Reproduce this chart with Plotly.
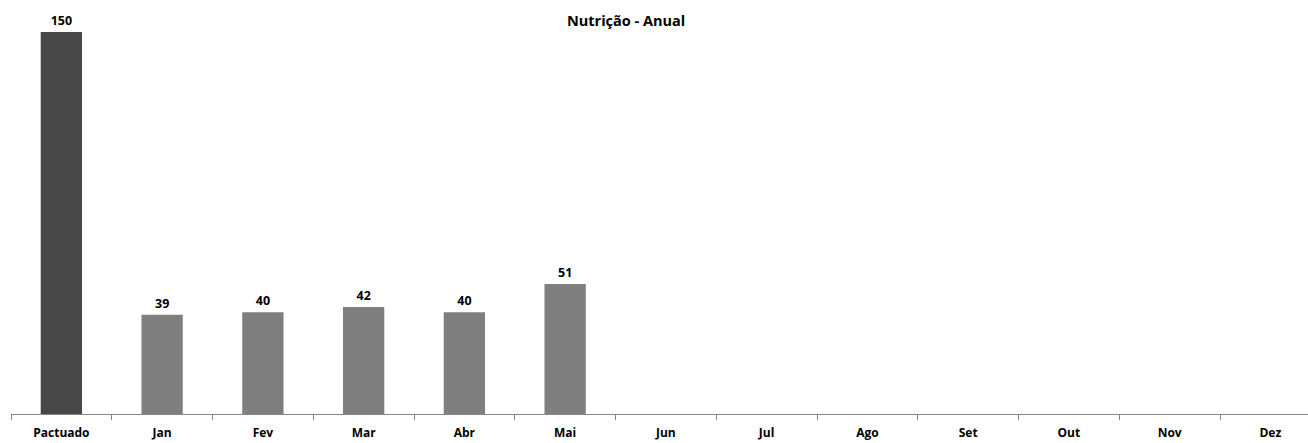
import plotly.graph_objects as go

categories = ["Pactuado", "Jan", "Fev", "Mar", "Abr", "Mai", "Jun",
              "Jul", "Ago", "Set", "Out", "Nov", "Dez"]
values = [150, 39, 40, 42, 40, 51, None, None, None, None, None, None, None]
bar_colors = ["#474747"] + ["#7f7f7f"] * 12

FONT = "Open Sans"
W, H = 1308, 443
M_L, M_R, M_T, M_B = 11, 0, 32, 29
PLOT_W = W - M_L - M_R
PLOT_H = H - M_T - M_B

fig = go.Figure(go.Bar(
    x=categories,
    y=values,
    width=0.41,
    marker=dict(color=bar_colors, line=dict(width=0)),
    text=[f"<b>{v}</b>" if v is not None else "" for v in values],
    textposition="outside",
    constraintext="none",
    textfont=dict(family=FONT, size=12.5, color="#000000"),
    cliponaxis=False,
    hoverinfo="x+y",
))

fig.update_layout(
    width=W,
    height=H,
    paper_bgcolor="white",
    plot_bgcolor="white",
    showlegend=False,
    margin=dict(l=M_L, r=M_R, t=M_T, b=M_B),
    font=dict(family=FONT, size=11, color="#000000"),
    annotations=[dict(
        text="<b>Nutrição - Anual</b>",
        x=(626 - M_L) / PLOT_W, xref="paper", xanchor="center",
        y=1 + (M_T - 20) / PLOT_H, yref="paper", yanchor="middle",
        showarrow=False,
        font=dict(family=FONT, size=14.5, color="#000000"),
    )],
)

fig.update_xaxes(
    range=[-0.5, PLOT_W / 100.75 - 0.5],
    showline=True, linecolor="#868686", linewidth=1,
    ticks="outside", tickson="boundaries", ticklen=5, tickcolor="#868686",
    ticklabelstandoff=8,
    showgrid=False, zeroline=False,
    tickfont=dict(family=FONT, size=12, color="#000000", weight="bold"),
)
fig.update_yaxes(
    range=[0, 150], visible=False, showgrid=False, zeroline=False,
)

fig.write_html("out.html", config={"displayModeBar": False},
               post_script="document.body.style.margin='0';")
